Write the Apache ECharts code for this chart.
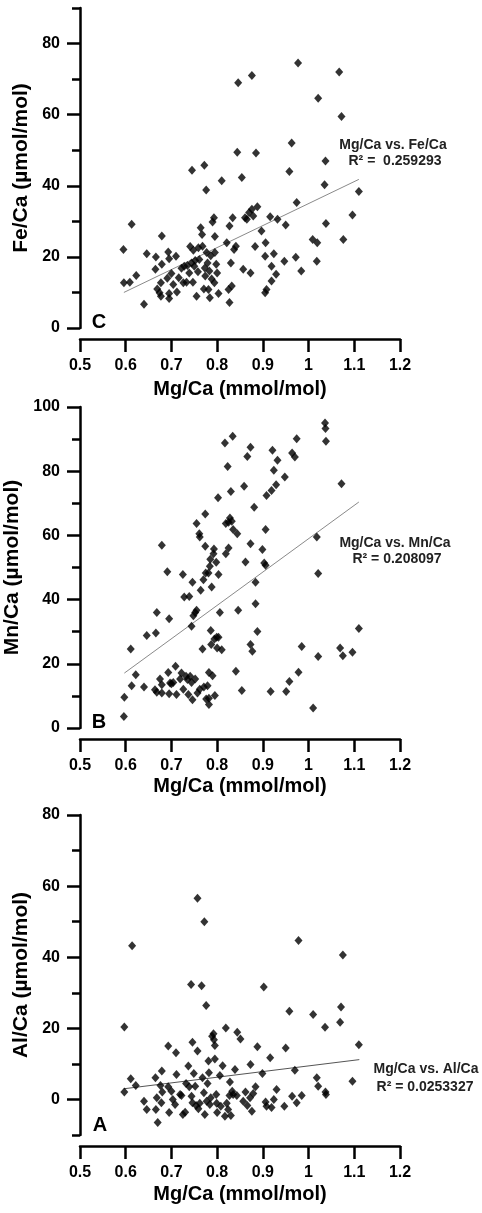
<!DOCTYPE html>
<html>
<head>
<meta charset="utf-8">
<script src="https://cdn.jsdelivr.net/npm/echarts@6/dist/echarts.min.js"></script>
<style>
html, body { margin: 0; padding: 0; background: #fff; }
#box { width: 482px; height: 1213px; }
</style>
</head>
<body>
<div id="box"></div>
<script>
// Mg/Ca (mmol/mol) vs. trace element ratios, three stacked panels C / B / A

var feCaPoints = [
  [0.595,22.1],[0.613,29.2],[0.596,12.7],[0.609,12.9],[0.623,14.8],[0.640,6.7],[0.646,20.9],[0.666,20.0],
  [0.679,25.9],[0.679,17.9],[0.665,16.5],[0.669,11.0],[0.674,9.9],[0.677,8.9],[0.677,12.7],[0.693,21.4],
  [0.695,19.5],[0.691,14.0],[0.695,9.7],[0.695,8.3],[0.700,15.3],[0.704,12.2],[0.710,20.2],[0.712,10.1],
  [0.716,14.1],[0.722,16.8],[0.728,17.4],[0.726,12.7],[0.733,12.9],[0.739,15.5],[0.741,22.9],[0.745,44.4],
  [0.744,18.3],[0.747,12.9],[0.748,21.9],[0.750,17.4],[0.755,8.9],[0.759,22.6],[0.761,19.3],[0.764,28.2],
  [0.767,26.3],[0.768,23.0],[0.771,11.0],[0.772,45.8],[0.773,16.9],[0.774,14.6],[0.776,38.8],[0.777,21.2],
  [0.779,18.3],[0.781,10.8],[0.783,16.0],[0.784,8.5],[0.788,13.8],[0.790,29.8],[0.793,31.0],[0.794,12.7],
  [0.795,25.7],[0.795,21.2],[0.798,17.9],[0.800,15.5],[0.803,9.7],[0.810,41.4],[0.821,24.0],[0.825,10.8],
  [0.827,28.7],[0.827,7.2],[0.830,18.3],[0.832,11.8],[0.834,31.0],[0.837,22.1],[0.841,23.0],[0.844,49.4],
  [0.846,69.0],[0.854,42.3],[0.857,16.5],[0.861,31.0],[0.865,30.6],[0.870,32.5],[0.873,15.5],[0.876,71.0],
  [0.876,33.4],[0.879,31.5],[0.883,22.9],[0.885,49.2],[0.888,34.1],[0.897,27.3],[0.906,24.0],[0.905,20.2],
  [0.905,9.9],[0.908,10.8],[0.916,31.3],[0.919,17.4],[0.924,20.9],[0.919,13.2],[0.929,15.1],[0.932,30.6],
  [0.947,18.8],[0.950,29.0],[0.958,44.0],[0.963,52.0],[0.972,19.9],[0.974,35.3],[0.977,74.5],[0.984,16.0],
  [1.009,24.9],[1.019,24.0],[1.018,18.8],[1.021,64.6],[1.035,40.3],[1.037,47.0],[1.038,29.4],[1.067,72.0],
  [1.072,59.5],[1.076,24.9],[1.096,31.8],[1.110,38.4],[0.786,20.3],[0.752,19.0],[0.735,17.6],[0.758,15.8]
];

var mnCaPoints = [
  [0.596,3.6],[0.597,9.6],[0.611,24.6],[0.613,13.2],[0.622,16.6],[0.640,12.8],[0.646,28.8],[0.666,29.6],
  [0.668,36.0],[0.664,11.9],[0.668,11.1],[0.679,56.9],[0.675,15.3],[0.679,13.5],[0.679,10.9],[0.691,48.7],
  [0.695,34.0],[0.693,17.3],[0.697,14.0],[0.695,10.7],[0.700,13.8],[0.704,14.2],[0.709,19.2],[0.711,10.4],
  [0.719,15.3],[0.725,47.8],[0.722,17.1],[0.726,12.1],[0.728,40.8],[0.732,16.1],[0.735,15.1],[0.739,41.0],
  [0.737,10.4],[0.741,16.1],[0.744,14.2],[0.746,45.4],[0.744,31.7],[0.746,8.8],[0.748,35.0],[0.752,36.0],
  [0.755,36.7],[0.752,15.3],[0.755,63.7],[0.757,10.9],[0.761,60.5],[0.762,59.5],[0.762,12.1],[0.764,42.9],
  [0.768,24.6],[0.770,46.2],[0.771,12.8],[0.774,66.7],[0.774,56.6],[0.775,48.3],[0.776,9.0],[0.779,13.2],
  [0.781,48.3],[0.782,17.3],[0.782,9.3],[0.782,7.3],[0.784,50.4],[0.785,52.6],[0.786,30.4],[0.787,26.0],
  [0.788,43.9],[0.790,16.3],[0.792,54.3],[0.793,55.8],[0.794,27.7],[0.795,10.1],[0.798,51.6],[0.799,28.3],
  [0.800,24.9],[0.802,71.7],[0.803,47.8],[0.803,28.3],[0.806,36.0],[0.810,24.4],[0.817,88.8],[0.819,54.3],
  [0.819,63.7],[0.823,81.5],[0.825,64.1],[0.825,56.1],[0.828,65.4],[0.830,73.7],[0.832,64.4],[0.834,90.9],
  [0.835,61.8],[0.841,17.7],[0.844,60.5],[0.846,36.7],[0.854,11.7],[0.859,75.3],[0.862,51.7],[0.866,84.6],
  [0.873,87.5],[0.873,57.4],[0.873,26.0],[0.877,23.9],[0.881,68.8],[0.884,45.4],[0.884,38.7],[0.888,30.1],
  [0.899,55.6],[0.903,51.4],[0.906,50.7],[0.906,61.8],[0.908,72.4],[0.917,11.4],[0.921,86.5],[0.919,74.0],
  [0.924,80.3],[0.929,75.8],[0.932,83.4],[0.948,78.2],[0.951,11.4],[0.958,14.5],[0.964,85.7],[0.970,84.4],
  [0.974,90.1],[0.978,17.4],[0.985,25.4],[1.010,6.2],[1.018,59.5],[1.021,48.1],[1.021,22.3],[1.036,95.0],
  [1.037,93.3],[1.038,89.3],[1.069,24.9],[1.072,76.1],[1.075,22.5],[1.096,23.6],[1.110,31.0]
];

var alCaPoints = [
  [0.597,20.4],[0.614,43.2],[0.597,2.1],[0.611,5.8],[0.622,3.9],[0.640,-0.5],[0.646,-2.8],[0.665,6.1],
  [0.666,-2.8],[0.668,0.5],[0.670,-6.5],[0.676,3.9],[0.679,8.0],[0.680,2.1],[0.678,-0.9],[0.693,15.0],
  [0.693,3.6],[0.695,-3.7],[0.700,2.3],[0.703,0.0],[0.708,-1.4],[0.710,13.1],[0.711,7.0],[0.719,1.4],
  [0.722,1.1],[0.725,-4.2],[0.730,-3.6],[0.732,4.5],[0.737,9.4],[0.739,3.6],[0.743,32.3],[0.744,0.9],
  [0.746,16.1],[0.746,-0.9],[0.749,7.3],[0.752,3.7],[0.754,-1.7],[0.757,13.6],[0.757,56.6],[0.759,-2.6],
  [0.762,-1.1],[0.766,32.0],[0.768,6.1],[0.771,1.9],[0.772,50.0],[0.773,-4.2],[0.776,26.4],[0.777,-0.5],
  [0.779,4.5],[0.781,10.8],[0.782,7.5],[0.784,-1.4],[0.786,0.5],[0.789,17.8],[0.792,18.5],[0.793,16.8],
  [0.795,15.2],[0.795,11.4],[0.798,1.4],[0.799,-1.1],[0.800,-3.7],[0.806,6.7],[0.808,-1.9],[0.812,9.5],
  [0.817,-4.7],[0.819,20.1],[0.821,-1.1],[0.824,-2.8],[0.827,1.1],[0.828,4.9],[0.830,-4.5],[0.833,2.3],
  [0.835,1.4],[0.839,8.4],[0.843,1.1],[0.844,18.9],[0.851,17.0],[0.857,-0.5],[0.862,2.1],[0.866,-1.7],
  [0.872,0.5],[0.873,9.8],[0.876,-3.3],[0.879,1.7],[0.884,3.6],[0.888,14.8],[0.899,7.3],[0.902,31.6],
  [0.906,-0.7],[0.908,-1.9],[0.916,11.7],[0.919,-2.3],[0.924,0.0],[0.930,2.8],[0.947,-1.9],[0.950,14.5],
  [0.958,24.8],[0.964,0.9],[0.970,8.2],[0.974,-0.9],[0.978,44.7],[0.985,1.1],[1.010,23.9],[1.018,6.1],
  [1.021,3.7],[1.036,20.3],[1.037,2.1],[1.038,1.4],[1.069,21.7],[1.071,26.0],[1.075,40.6],[1.096,5.1],
  [1.110,15.4]
];

// regression lines, end points
var feCaFit = [[0.596, 10.0], [1.110, 41.8]];
var mnCaFit = [[0.597, 17.1], [1.110, 70.4]];
var alCaFit = [[0.596, 3.0], [1.111, 11.2]];

// y tick values (major with labels, minor without)
var feCaTicks = [0, 20, 40, 60, 80];
var feCaMinor = [10, 30, 50, 70, 90];
var mnCaTicks = [0, 20, 40, 60, 80, 100];
var mnCaMinor = [10, 30, 50, 70, 90];
var alCaTicks = [0, 20, 40, 60, 80];
var alCaMinor = [-10, 10, 30, 50, 70];

var panelLetters = ['C', 'B', 'A'];
var yNames = ['Fe/Ca (µmol/mol)', 'Mn/Ca (µmol/mol)', 'Al/Ca (µmol/mol)'];
var fitLabels = ['Mg/Ca vs. Fe/Ca', 'Mg/Ca vs. Mn/Ca', 'Mg/Ca vs. Al/Ca'];
var r2Labels = ['R² =  0.259293', 'R² = 0.208097', 'R² = 0.0253327'];

var font = 'Liberation Sans, Arial, sans-serif';

var panels = [
  { top: 8,   height: 320, min: 0,   max: 90,  ticks: feCaTicks, minor: feCaMinor, pts: feCaPoints, fit: feCaFit, fitColor: '#8a8a8a',
    nameGap: 40, note: [393, 145, 395, 161], letter: [99, 322] },
  { top: 407, height: 321, min: 0,   max: 100, ticks: mnCaTicks, minor: mnCaMinor, pts: mnCaPoints, fit: mnCaFit, fitColor: '#8a8a8a',
    nameGap: 37, note: [395, 543, 397, 559], letter: [99, 722] },
  { top: 815, height: 320, min: -10, max: 80,  ticks: alCaTicks, minor: alCaMinor, pts: alCaPoints, fit: alCaFit, fitColor: '#555',
    nameGap: 38, note: [426, 1069, 425, 1087], letter: [100, 1125] }
];

var grid = [], xAxis = [], yAxis = [], series = [], graphic = [];

panels.forEach(function (p, i) {
  grid.push({ left: 80, width: 320, top: p.top, height: p.height, outerBoundsMode: 'none' });

  xAxis.push({
    gridIndex: i, type: 'value', position: 'bottom', min: 0.5, max: 1.2, interval: 0.1, offset: 11,
    name: 'Mg/Ca (mmol/mol)', nameLocation: 'middle', nameGap: p.nameGap,
    nameTextStyle: { color: '#000', fontSize: 20, fontWeight: 'bold', fontFamily: font },
    axisLine: { show: true, onZero: false, lineStyle: { color: '#000', width: 2.5 } },
    axisTick: { show: true, length: 13, lineStyle: { color: '#000', width: 2.5 } },
    axisLabel: { color: '#000', fontSize: 16, fontWeight: 'bold', fontFamily: font, margin: 19 },
    splitLine: { show: false }
  });

  // major ticks + labels
  yAxis.push({
    gridIndex: i, type: 'value', position: 'left', offset: 0, min: p.min, max: p.max,
    name: yNames[i], nameLocation: 'middle', nameGap: 45,
    nameTextStyle: { color: '#000', fontSize: 21, fontWeight: 'bold', fontFamily: font },
    axisLine: { show: true, onZero: false, lineStyle: { color: '#000', width: 2.5 } },
    axisTick: { show: true, length: 13, customValues: p.ticks, lineStyle: { color: '#000', width: 2.5 } },
    axisLabel: { customValues: p.ticks, color: '#000', fontSize: 16, fontWeight: 'bold', fontFamily: font, margin: 20 },
    splitLine: { show: false }
  });
  // minor ticks
  yAxis.push({
    gridIndex: i, type: 'value', position: 'left', offset: 0, min: p.min, max: p.max,
    axisLine: { show: false, onZero: false },
    axisTick: { show: true, length: 8, customValues: p.minor, lineStyle: { color: '#000', width: 2.5 } },
    axisLabel: { show: false },
    splitLine: { show: false }
  });

  series.push({
    type: 'line', xAxisIndex: i, yAxisIndex: 2 * i, data: p.fit,
    symbol: 'none', silent: true, z: 1,
    lineStyle: { color: p.fitColor, width: 1 }
  });
  series.push({
    type: 'scatter', xAxisIndex: i, yAxisIndex: 2 * i, data: p.pts,
    symbol: 'diamond', symbolSize: [8, 9], z: 2,
    itemStyle: { color: '#000' }
  });

  graphic.push({ type: 'text', x: p.note[0], y: p.note[1],
    style: { text: fitLabels[i], fill: '#222', font: 'bold 14px ' + font, align: 'center', verticalAlign: 'middle' } });
  graphic.push({ type: 'text', x: p.note[2], y: p.note[3],
    style: { text: r2Labels[i], fill: '#222', font: 'bold 14px ' + font, align: 'center', verticalAlign: 'middle' } });
  graphic.push({ type: 'text', x: p.letter[0], y: p.letter[1],
    style: { text: panelLetters[i], fill: '#000', font: 'bold 20px ' + font, align: 'center', verticalAlign: 'middle' } });
});

var chart = echarts.init(document.getElementById('box'), null, { renderer: 'canvas' });
chart.setOption({
  animation: false,
  backgroundColor: '#fff',
  grid: grid,
  xAxis: xAxis,
  yAxis: yAxis,
  series: series,
  graphic: graphic
});

// the offset x axes sometimes only show up on a later frame, so paint everything now
var zr = chart.getZr();
zr.storage.getDisplayList(true);
zr.refreshImmediately();
</script>
</body>
</html>
